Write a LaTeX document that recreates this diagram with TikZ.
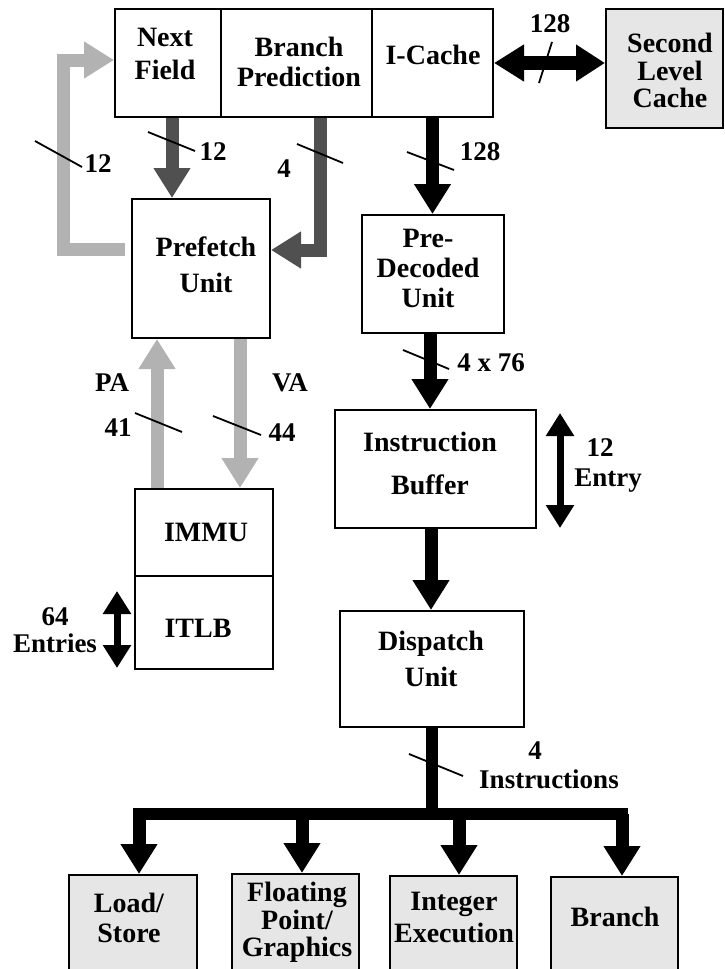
\documentclass[tikz,border=0pt]{standalone}
\usepackage{fontspec}
\setmainfont{Liberation Serif}
\usetikzlibrary{arrows.meta}
\definecolor{ltgray}{RGB}{178,178,178}
\definecolor{dkgray}{RGB}{80,80,80}
\definecolor{boxfill}{RGB}{230,230,230}
\tikzset{
  blk/.style={draw, line width=2pt, inner sep=0pt, fill=white},
  gbox/.style={blk, fill=boxfill},
  txt/.style={font=\fontsize{28}{#1}\selectfont\bfseries, align=center, inner sep=0pt},
  txt/.default=32,
  lbl/.style={font=\fontsize{27}{#1}\selectfont\bfseries, align=center, inner sep=0pt},
  lbl/.default=28,
  tick/.style={line width=1.8pt},
  arr/.style={line width=13pt, -{Triangle[length=30pt,width=35pt]}},
  dblfat/.style={line width=14pt, {Triangle[length=30pt,width=35pt]}-{Triangle[length=29pt,width=35pt]}},
  dbl/.style={line width=7pt, {Triangle[length=23pt,width=27pt]}-{Triangle[length=23pt,width=27pt]}},
  bus/.style={line width=12pt},
}
\begin{document}
\begin{tikzpicture}[x=1pt,y=-1pt]
\useasboundingbox (0,0) rectangle (725,969);
\clip (0,0) rectangle (725,969);

% boxes
\node[blk, minimum width=106pt, minimum height=108pt] (nf) at (168,63) {};
\node[blk, minimum width=151pt, minimum height=108pt] (bp) at (296.5,63) {};
\node[blk, minimum width=121pt, minimum height=108pt] (ic) at (432.5,63) {};
\node[gbox, minimum width=117pt, minimum height=119pt] (slc) at (664.5,68.5) {};
\node[blk, minimum width=138pt, minimum height=139pt] (pf) at (201,268.5) {};
\node[blk, minimum width=142pt, minimum height=118pt] (pd) at (433,274) {};
\node[blk, minimum width=201pt, minimum height=118pt] (ib) at (435.5,469) {};
\node[blk, minimum width=184pt, minimum height=116pt] (dp) at (432,669) {};
\node[blk, minimum width=138pt, minimum height=87pt] (immu) at (204,532.5) {};
\node[blk, minimum width=138pt, minimum height=93pt] (itlb) at (204,622.5) {};
\node[gbox, minimum width=128pt, minimum height=110pt] (ls) at (133,930) {};
\node[gbox, minimum width=127pt, minimum height=110pt] (fp) at (295.5,929) {};
\node[gbox, minimum width=127pt, minimum height=110pt] (ie) at (453.5,931) {};
\node[gbox, minimum width=127pt, minimum height=110pt] (br) at (614.5,932) {};

% box texts
\node[txt=33] (t-nf) at (165,53.5) {Next\\Field};
\node[txt=30] (t-bp) at (299,62) {Branch\\Prediction};
\node[txt] (t-ic) at (433,55) {I-Cache};
\node[txt=27.5] (t-slc) at (670,70.5) {Second\\Level\\Cache};
\node[txt=36] (t-pf) at (206,265) {Prefetch\\Unit};
\node[txt=30] (t-pd) at (428,268) {Pre-\\Decoded\\Unit};
\node[txt=43] (t-ib) at (430,463) {Instruction\\Buffer};
\node[txt=36] (t-dp) at (431,659) {Dispatch\\Unit};
\node[txt] (t-immu) at (206,532) {IMMU};
\node[txt] (t-itlb) at (198,628) {ITLB};
\node[txt=30] (t-ls) at (129,918) {Load/\\Store};
\node[txt=27.5] (t-fp) at (297,922.5) {Floating\\Point/\\Graphics};
\node[txt=32] (t-ie) at (454,917) {Integer\\Execution};
\node[txt] (t-br) at (615,917) {Branch};

% labels
\node[lbl] (l1) at (550,24) {128};
\node[lbl] (l2) at (480,152) {128};
\node[lbl] (l3) at (213,152) {12};
\node[lbl] (l4) at (98,164) {12};
\node[lbl] (l5) at (284,169) {4};
\node[lbl] (l6) at (112,383) {PA};
\node[lbl] (l7) at (290,383) {VA};
\node[lbl] (l8) at (118,428) {41};
\node[lbl] (l9) at (282,433) {44};
\node[lbl] (l10) at (491,363) {4 x 76};
\node[lbl] (l11) at (600,448) {12};
\node[lbl] (l12) at (608,481) {Entry};
\node[lbl=27] (l13) at (55,630) {64\\Entries};
\node[lbl] (l14) at (535,751) {4};
\node[lbl] (l15) at (549,779) {Instructions};

% connectors
\draw[dblfat] (ic.east) -- (slc.west |- ic.east);
\draw[arr] (ic.south) -- (ic.south |- pd.north);
\draw[arr, dkgray] ([xshift=4pt]nf.south) -- ([xshift=4pt]nf.south |- pf.north);
\draw[arr, dkgray, line join=miter] ([xshift=23.5pt]bp.south) |- ([yshift=18.5pt]pf.east);
\coordinate (lc) at (63,60);
\draw[arr, ltgray, line join=miter] ([xshift=-6pt,yshift=19.5pt]pf.west) -| (lc) -- ([yshift=3pt]nf.west);
\draw[arr, ltgray] ([xshift=-47pt]immu.north) -- ([xshift=-47pt]immu.north |- pf.south);
\draw[arr, ltgray] ([xshift=39pt]pf.south) -- ([xshift=39pt]pf.south |- immu.north);
\draw[arr] ([xshift=-3pt]pd.south) -- ([xshift=-3pt]pd.south |- ib.north);
\draw[arr] ([xshift=-4.5pt]ib.south) -- ([xshift=-4.5pt]ib.south |- dp.north);

\coordinate (bj) at (432,814);
\coordinate (b1) at (139,814);
\coordinate (b2) at (302,814);
\coordinate (b3) at (459,814);
\coordinate (b4) at (622,814);
\draw[bus] (dp.south) -- (bj);
\draw[bus, line cap=rect] (b1) -- (b4);
\draw[arr] (b1) -- (b1 |- ls.north);
\draw[arr] (b2) -- (b2 |- fp.north);
\draw[arr] (b3) -- (b3 |- ie.north);
\draw[arr] (b4) -- (b4 |- br.north);

\coordinate (e1) at (117,591);
\coordinate (e2) at (117,668);
\draw[dbl] (e1) -- (e2);
\coordinate (e3) at (560,413);
\coordinate (e4) at (560,528);
\draw[dbl] (e3) -- (e4);

% bus-width ticks
\draw[tick] (539,83) -- (552,42);
\draw[tick] (407,152) -- (454,170);
\draw[tick] (148,132) -- (195,151);
\draw[tick] (297,144) -- (343,163);
\draw[tick] (35,141) -- (82,167);
\draw[tick] (135,413) -- (182,432);
\draw[tick] (213,416) -- (261,435);
\draw[tick] (403,350) -- (449,369);
\draw[tick] (409,754) -- (463,776);
\end{tikzpicture}
\end{document}
